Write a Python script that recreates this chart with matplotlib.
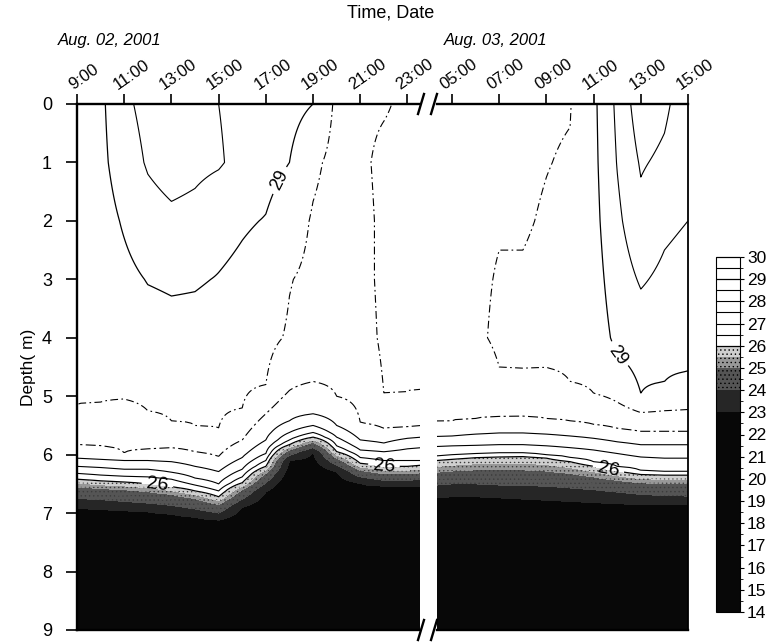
import numpy as np
import matplotlib.pyplot as plt
import matplotlib.transforms as mtransforms
from matplotlib.colors import ListedColormap, BoundaryNorm
from matplotlib.lines import Line2D

plt.rcParams['font.family'] = ['Liberation Sans', 'DejaVu Sans']
plt.rcParams['hatch.color'] = '#3c3c3c'
plt.rcParams['hatch.linewidth'] = 0.5

# ---- values ---------------------------------------------------------------
# mixed layer: temperature (deg C) at these depths for every profile
upper_depths = [0, 1, 2, 3, 4]
# isotherms (deg C) and the depth (m) where each profile crosses them, nan = not crossed
iso_temps = [29, 28.5, 28, 27.5, 27, 26.5, 26, 25, 24, 23]
bottom_depth = 9
bottom_temp = 16

# Aug. 02, 2001 (hours)
left_times = [9, 10, 11, 12, 13, 14, 15, 16, 17, 18, 19, 20, 21, 22, 23, 23.6]
left_upper = [
    [28.80, 28.80, 28.75, 28.70, 28.65],
    [28.90, 28.88, 28.80, 28.75, 28.68],
    [29.40, 29.25, 29.05, 28.88, 28.75],
    [29.65, 29.55, 29.30, 29.02, 28.80],
    [29.80, 29.70, 29.40, 29.06, 28.85],
    [29.70, 29.62, 29.35, 29.04, 28.85],
    [29.50, 29.55, 29.15, 28.98, 28.80],
    [29.35, 29.35, 29.05, 28.90, 28.75],
    [29.25, 29.15, 28.98, 28.80, 28.62],
    [29.15, 29.00, 28.75, 28.52, 28.45],
    [29.00, 28.60, 28.45, 28.40, 28.30],
    [28.40, 28.35, 28.30, 28.30, 28.25],
    [28.40, 28.40, 28.35, 28.35, 28.30],
    [28.45, 28.62, 28.60, 28.60, 28.58],
    [28.60, 28.65, 28.62, 28.60, 28.58],
    [28.70, 28.65, 28.62, 28.60, 28.58],
]
nan = np.nan
left_iso = [
    [nan, 5.14, 5.83, 6.06, 6.20, 6.32, 6.42, 6.55, 6.75, 6.92],
    [nan, 5.10, 5.85, 6.08, 6.22, 6.35, 6.45, 6.58, 6.77, 6.94],
    [nan, 5.05, 5.97, 6.10, 6.25, 6.37, 6.47, 6.60, 6.80, 6.96],
    [nan, 5.25, 5.90, 6.10, 6.25, 6.38, 6.50, 6.63, 6.83, 6.98],
    [nan, 5.42, 5.88, 6.12, 6.30, 6.42, 6.55, 6.68, 6.87, 7.02],
    [nan, 5.50, 5.95, 6.20, 6.40, 6.52, 6.62, 6.75, 6.93, 7.07],
    [nan, 5.54, 6.03, 6.29, 6.50, 6.62, 6.72, 6.85, 7.00, 7.12],
    [nan, 5.20, 5.75, 6.05, 6.25, 6.38, 6.48, 6.60, 6.76, 6.90],
    [nan, 4.80, 5.30, 5.75, 5.98, 6.10, 6.20, 6.32, 6.48, 6.64],
    [nan, nan, 4.90, 5.42, 5.62, 5.75, 5.83, 5.92, 6.01, 6.10],
    [nan, nan, 4.75, 5.30, 5.50, 5.62, 5.70, 5.79, 5.88, 5.96],
    [nan, nan, 5.00, 5.50, 5.70, 5.85, 5.95, 6.06, 6.18, 6.29],
    [nan, nan, 5.45, 5.75, 5.92, 6.05, 6.15, 6.27, 6.38, 6.49],
    [nan, 4.95, 5.55, 5.80, 5.95, 6.10, 6.20, 6.33, 6.44, 6.54],
    [nan, 4.92, 5.52, 5.72, 5.90, 6.10, 6.20, 6.33, 6.44, 6.54],
    [nan, 4.88, 5.50, 5.70, 5.88, 6.10, 6.18, 6.31, 6.42, 6.54],
]

# Aug. 03, 2001 (hours)
right_times = [4.36, 5, 6, 7, 8, 9, 10, 11, 12, 13, 14, 15]
right_upper = [
    [28.42, 28.42, 28.42, 28.42, 28.42],
    [28.40, 28.42, 28.42, 28.42, 28.42],
    [28.42, 28.42, 28.42, 28.42, 28.42],
    [28.42, 28.44, 28.47, 28.53, 28.58],
    [28.42, 28.44, 28.47, 28.53, 28.58],
    [28.46, 28.49, 28.53, 28.57, 28.60],
    [28.48, 28.53, 28.58, 28.62, 28.65],
    [28.90, 28.88, 28.85, 28.80, 28.75],
    [29.60, 29.52, 29.40, 29.25, 29.10],
    [30.30, 30.05, 29.85, 29.55, 29.25],
    [30.10, 29.90, 29.60, 29.40, 29.20],
    [29.70, 29.60, 29.50, 29.30, 29.15],
]
right_iso = [
    [nan, nan, 5.43, 5.69, 5.86, 6.02, 6.10, 6.30, 6.52, 6.74],
    [nan, nan, 5.42, 5.68, 5.85, 6.00, 6.08, 6.28, 6.50, 6.72],
    [nan, nan, 5.38, 5.65, 5.84, 5.98, 6.05, 6.26, 6.50, 6.72],
    [nan, 4.50, 5.35, 5.63, 5.83, 5.97, 6.04, 6.26, 6.52, 6.74],
    [nan, 4.52, 5.34, 5.63, 5.83, 5.97, 6.03, 6.26, 6.53, 6.76],
    [nan, 4.51, 5.38, 5.65, 5.85, 6.00, 6.06, 6.28, 6.54, 6.78],
    [nan, 4.75, 5.42, 5.68, 5.88, 6.05, 6.12, 6.32, 6.57, 6.80],
    [nan, 4.95, 5.48, 5.72, 5.92, 6.12, 6.20, 6.38, 6.60, 6.82],
    [4.30, 5.10, 5.55, 5.78, 5.98, 6.20, 6.28, 6.44, 6.64, 6.84],
    [4.95, 5.28, 5.60, 5.83, 6.04, 6.27, 6.34, 6.48, 6.68, 6.85],
    [4.75, 5.25, 5.60, 5.83, 6.06, 6.29, 6.35, 6.50, 6.70, 6.86],
    [4.57, 5.23, 5.60, 5.83, 6.06, 6.29, 6.35, 6.50, 6.71, 6.86],
]

left_ticks = [9, 11, 13, 15, 17, 19, 21, 23]
left_ticklabels = ['9:00', '11:00', '13:00', '15:00', '17:00', '19:00', '21:00', '23:00']
right_ticks = [5, 7, 9, 11, 13, 15]
right_ticklabels = ['05:00', '07:00', '09:00', '11:00', '13:00', '15:00']
depth_ticks = list(range(10))
cbar_ticks = list(range(14, 31))

# label positions (hour, depth) of the "29" and "26" contour labels
left_29_at = [(17.8, 1.35)]
left_26_at = [(12.4, 6.55), (22.0, 6.2)]
right_29_at = [(12.0, 4.3)]
right_26_at = [(11.6, 6.3)]

fill_levels = np.arange(14, 30.01, 0.5)
line_levels = [26.5, 27, 27.5, 28, 28.5, 29.5, 30]
line_styles = ['solid', 'solid', 'solid', (0, (9, 3, 2, 3)),
               (0, (7, 3, 1.5, 3)), 'solid', 'solid']


def build_field(upper, iso):
    """Temperature section on a fine depth grid from the profile knots."""
    zz = np.linspace(0, bottom_depth, 451)
    cols = []
    for tu, di in zip(upper, iso):
        d = list(upper_depths)
        v = list(tu)
        for temp, depth in zip(iso_temps, di):
            if not np.isnan(depth):
                d.append(depth)
                v.append(temp)
        d.append(bottom_depth)
        v.append(bottom_temp)
        cols.append(np.interp(zz, d, v))
    return zz, np.array(cols).T


def grey(level):
    if level >= 26:
        return 'white'
    if level >= 25.5:
        return '#cfcfcf'
    if level >= 25:
        return '#989898'
    if level >= 24:
        return '#555555'
    if level >= 23:
        return '#262626'
    return '#080808'


cmap = ListedColormap([grey(l) for l in fill_levels[:-1]])
norm = BoundaryNorm(fill_levels, cmap.N)
# stippled look of the grey bands
hatches = ['....' if 24 <= l < 26 else None for l in fill_levels[:-1]]

W, H = 766, 642
fig = plt.figure(figsize=(W / 100, H / 100), dpi=100)
top, bot = 104, 630
axL = fig.add_axes([77 / W, (H - bot) / H, (420 - 77) / W, (bot - top) / H])
axR = fig.add_axes([437 / W, (H - bot) / H, (688 - 437) / W, (bot - top) / H])
cax = fig.add_axes([716 / W, (H - 612) / H, 24 / W, (612 - 257) / H])
axL.set_xlim(9, 23.53)
axR.set_xlim(4.36, 15)

panels = [(axL, left_times, left_upper, left_iso, left_29_at, left_26_at),
          (axR, right_times, right_upper, right_iso, right_29_at, right_26_at)]
line_sets = []
fills = []
for ax, times, upper, iso, at29, at26 in panels:
    zz, temp = build_field(upper, iso)
    ax.set_ylim(9, 0)
    cf = ax.contourf(times, zz, temp, levels=fill_levels, cmap=cmap, norm=norm,
                     hatches=hatches)
    fills.append(cf)
    cs = ax.contour(times, zz, temp, levels=line_levels, colors='k',
                    linewidths=0.8, linestyles=line_styles)
    cs29 = ax.contour(times, zz, temp, levels=[29], colors='k', linewidths=0.9)
    cs26 = ax.contour(times, zz, temp, levels=[26], colors='k', linewidths=0.9)
    ax.clabel(cs29, manual=at29, fmt='%d', fontsize=13, inline=True)
    ax.clabel(cs26, manual=at26, fmt='%d', fontsize=14, inline=True)
    line_sets.append((cs, cs29, cs26))
    ax.xaxis.tick_top()
    ax.tick_params(axis='x', direction='out', length=7, width=1.2, pad=1,
                   labelsize=12)

# hour labels sit a little right of their tick
shift = mtransforms.ScaledTranslation(7 / 100, 0, fig.dpi_scale_trans)
axL.set_xticks(left_ticks)
axL.set_xticklabels(left_ticklabels, rotation=35, ha='center')
axR.set_xticks(right_ticks)
axR.set_xticklabels(right_ticklabels, rotation=35, ha='center')
for ax in (axL, axR):
    for lab in ax.get_xticklabels():
        lab.set_transform(lab.get_transform() + shift)

axL.set_yticks(depth_ticks)
axL.tick_params(axis='y', direction='out', length=8, width=1.2, labelsize=13,
                pad=10)
axR.set_yticks([])
axL.set_ylabel('Depth( m)', fontsize=12.5, labelpad=4)

for ax in (axL, axR):
    for s in ax.spines.values():
        s.set_linewidth(1.7)
axL.spines['right'].set_visible(False)
axR.spines['left'].set_visible(False)
axR.spines['right'].set_linewidth(1.3)

# axis break marks
for yy in (top, bot):
    for xx in (421, 434):
        fig.add_artist(Line2D([(xx - 3) / W, (xx + 3) / W],
                              [(H - yy - 10) / H, (H - yy + 10) / H],
                              color='k', lw=1.7))

# colour bar
cbar = fig.colorbar(fills[0], cax=cax, ticks=cbar_ticks)
for cs in line_sets[0]:
    cbar.add_lines(cs, erase=False)
cbar.outline.set_linewidth(0.8)
cax.tick_params(length=3, width=0.8, labelsize=12.5, pad=2)
cax.set_yticklabels([str(t) for t in cbar_ticks])

fig.text(391 / W, 1 - 13 / H, 'Time, Date', ha='center', va='center', fontsize=13)
fig.text(58 / W, 1 - 40 / H, 'Aug. 02, 2001', ha='left', va='center',
         fontsize=12, style='italic')
fig.text(444 / W, 1 - 40 / H, 'Aug. 03, 2001', ha='left', va='center',
         fontsize=12, style='italic')

fig.savefig('out.png', dpi=100)
